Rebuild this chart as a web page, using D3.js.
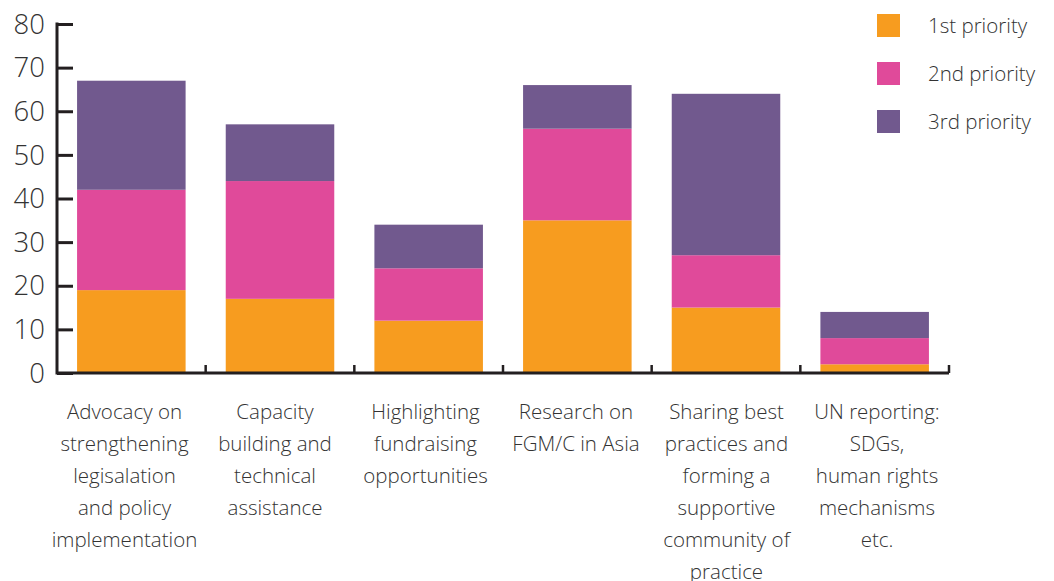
<!DOCTYPE html>
<html><head><meta charset="utf-8">
<script src="https://cdn.jsdelivr.net/npm/d3@7"></script>
<style>
body{margin:0;background:#fff;}
text{font-family:"Open Sans",sans-serif;}
</style></head>
<body><svg id="c" width="1054" height="581"></svg>
<script>
const categories = [
  ["Advocacy on","strengthening","legisalation","and policy","implementation"],
  ["Capacity","building and","technical","assistance"],
  ["Highlighting","fundraising","opportunities"],
  ["Research on","FGM/C in Asia"],
  ["Sharing best","practices and","forming a","supportive","community of","practice"],
  ["UN reporting:","SDGs,","human rights","mechanisms","etc."]
];
const seriesNames = ["1st priority","2nd priority","3rd priority"];
const first  = [19, 17, 12, 35, 15, 2];
const second = [23, 27, 12, 21, 12, 6];
const third  = [25, 13, 10, 10, 37, 6];
const yTicks = [0,10,20,30,40,50,60,70,80];
const colors = ["#F79C1F","#E04A9A","#71598E"];

const svg = d3.select("#c");
const x0 = 57, x1 = 949, yTop = 24, yBot = 373;
const idx = categories.map((d,i)=>i);
const x = d3.scaleBand().domain(idx).range([x0,x1]).paddingInner(0.27).paddingOuter(0.135);
const xLab = d3.scalePoint().domain(idx).range([124.5,877]);
const y = d3.scaleLinear().domain([0,80]).range([yBot,yTop]);

const data = idx.map(i=>({i, s0:first[i], s1:second[i], s2:third[i]}));
const stack = d3.stack().keys(["s0","s1","s2"])(data);

svg.append("g").selectAll("g").data(stack).join("g")
  .attr("fill",(d,k)=>colors[k])
  .selectAll("rect").data(d=>d).join("rect")
  .attr("x",d=>x(d.data.i)).attr("width",x.bandwidth())
  .attr("y",d=>y(d[1])).attr("height",d=>y(d[0])-y(d[1]));

const axisColor = "#231F20";
// y axis
const yAxis = svg.append("g").attr("transform",`translate(${x0},0)`)
  .call(d3.axisRight(y).tickValues(yTicks).tickSize(16).tickFormat(""));
yAxis.select(".domain").remove();
yAxis.selectAll("line").attr("stroke",axisColor).attr("stroke-width",3);
svg.append("line").attr("x1",x0).attr("x2",x0).attr("y1",yTop-1.5).attr("y2",yBot+1.5)
  .attr("stroke",axisColor).attr("stroke-width",3);
svg.append("g").selectAll("text").data(yTicks).join("text")
  .attr("x",45).attr("y",d=>y(d)).attr("dy","0.35em").attr("text-anchor","end")
  .attr("font-size",27.5).attr("font-weight",300).attr("fill","#333")
  .text(d=>d);

// x axis
svg.append("line").attr("x1",x0).attr("x2",x1).attr("y1",yBot).attr("y2",yBot)
  .attr("stroke",axisColor).attr("stroke-width",3);
const step = x.step();
const boundaries = idx.map(i=>x(i)+x.bandwidth()+ (step - x.bandwidth())/2);
svg.append("g").selectAll("line").data(boundaries).join("line")
  .attr("x1",d=>d).attr("x2",d=>d).attr("y1",yBot).attr("y2",yBot-8)
  .attr("stroke",axisColor).attr("stroke-width",2.5);

// category labels
const lab = svg.append("g").selectAll("text").data(idx).join("text")
  .attr("text-anchor","middle").attr("font-size",20.5).attr("font-weight",300).attr("fill","#333")
  .attr("transform",i=>`translate(${xLab(i)},419)`);
lab.selectAll("tspan").data(i=>categories[i]).join("tspan")
  .attr("x",0).attr("y",(d,j)=>j*32).text(d=>d);

// legend
const leg = svg.append("g").selectAll("g").data(seriesNames).join("g")
  .attr("transform",(d,k)=>`translate(877,${14+k*48})`);
leg.append("rect").attr("width",23).attr("height",23).attr("fill",(d,k)=>colors[k]);
leg.append("text").attr("x",51).attr("y",12).attr("dy","0.35em")
  .attr("font-size",20.5).attr("font-weight",300).attr("fill","#333").text(d=>d);
</script></body></html>
